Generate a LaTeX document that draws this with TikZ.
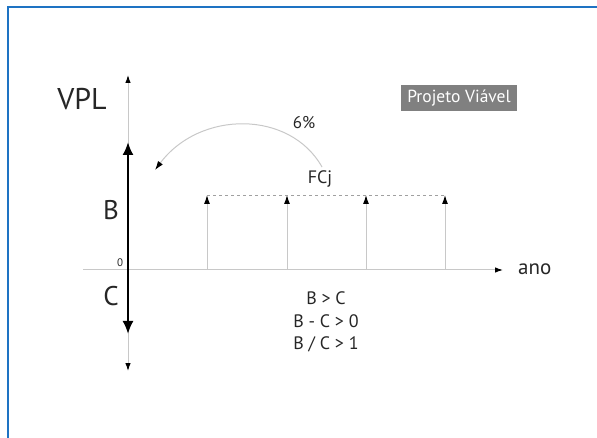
\documentclass[tikz,border=0pt]{standalone}
\usepackage{fontspec}
\setmainfont{PT Sans}
\usetikzlibrary{arrows.meta}
\definecolor{frameblue}{RGB}{30,115,195}
\definecolor{axisgray}{RGB}{200,200,200}
\definecolor{boxgray}{RGB}{128,128,128}
\tikzset{
  axisline/.style={axisgray, line width=1pt, -{Latex[length=8pt,width=5.5pt,black]}},
  flowline/.style={axisgray, line width=1pt, -{Latex[length=9pt,width=6pt,black]}},
  bigarrow/.style={black, line width=2pt, {Latex[length=13pt,width=11pt]}-{Latex[length=13pt,width=11pt]}},
  lbl/.style={inner sep=0pt, text=black!85}
}
\begin{document}
\begin{tikzpicture}[x=1pt,y=-1pt]
            \useasboundingbox (0,0) rectangle (597,438);
            % Frame
            \draw[frameblue, line width=2.2pt] (8,438) -- (8,7) -- (597,7);
            
            % Define coordinates
            \coordinate (o) at (128,270);
            \coordinate (ytop) at (128,75);
            \coordinate (ybot) at (128,371);
            \coordinate (xleft) at (83,270);
            \coordinate (xright) at (503,270);
            \coordinate (btop) at (128,142);
            \coordinate (cbot) at (128,334);
            
            % Axes
            \draw[axisline] (o) -- (ytop);
            \draw[axisline] (o) -- (ybot);
            \draw[axisline] (xleft) -- (xright);
            \draw[bigarrow] (cbot) -- (btop);
            
            % Axis labels
            \node[lbl, font=\fontsize{30}{30}\selectfont] (vpl) at (82,99) {VPL};
            \node[lbl, font=\fontsize{27}{27}\selectfont] (b) at (111,210) {B};
            \node[lbl, font=\fontsize{27}{27}\selectfont] (c) at (111,296) {C};
            \node[lbl, font=\fontsize{11}{11}\selectfont] (zero) at (120,263) {0};
            \node[lbl, font=\fontsize{21}{21}\selectfont, anchor=west] (ano) at (518,269) {ano};
            
            % Cash flows
            \foreach \i/\x in {1/207, 2/287, 3/366, 4/445} {
                \coordinate (f\i) at (\x,270);
                \coordinate (t\i) at (\x,195);
                \draw[flowline] (f\i) -- (t\i);
            }
            \draw[axisgray!80!black, line width=0.8pt, dash pattern=on 3pt off 3pt] (t1) -- (t4);
            \node[lbl, font=\fontsize{18}{18}\selectfont] (fcj) at (320,179) {FCj};
            
            % Discount arrow
            \coordinate (ds) at (322,167);
            \coordinate (de) at (155,170);
            \draw[flowline] (ds) .. controls (290,110) and (200,110) .. (de);
            \node[lbl, font=\fontsize{17}{17}\selectfont] (rate) at (304,123) {6\%};
            
            % Title box
            \node[fill=boxgray, text=white, font=\fontsize{17.5}{17.5}\selectfont,
                  minimum width=116pt, minimum height=26pt, inner sep=0pt] (proj) at (459,98) {Projeto Viável};
            
            % Conditions
            \node[lbl, font=\fontsize{18}{18}\selectfont] (cond1) at (326,298) {B > C};
            \node[lbl, font=\fontsize{18}{18}\selectfont] (cond2) at (326,321) {B - C > 0};
            \node[lbl, font=\fontsize{18}{18}\selectfont] (cond3) at (326,344) {B / C > 1};
            
\end{tikzpicture}
\end{document}
